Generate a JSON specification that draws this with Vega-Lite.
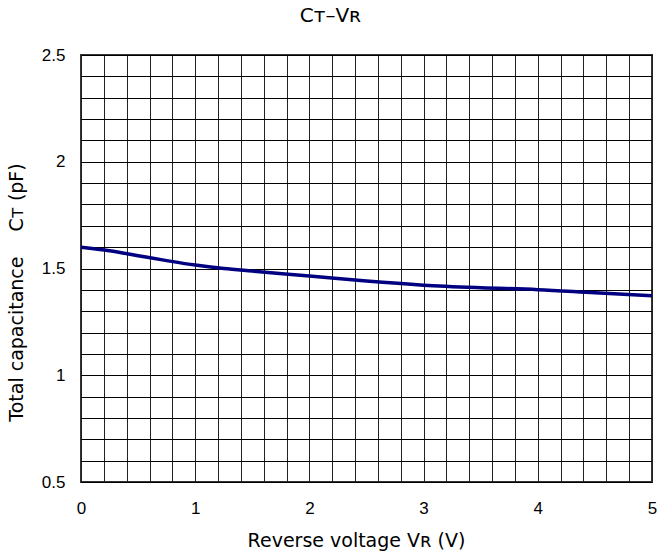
{
  "$schema": "https://vega.github.io/schema/vega-lite/v6.json",
  "width": 571,
  "height": 427,
  "autosize": {"type": "none"},
  "padding": {"left": 81, "top": 55, "right": 9, "bottom": 74},
  "background": "white",
  "config": {
    "view": {"stroke": "#333333", "strokeWidth": 2},
    "font": "Liberation Sans"
  },
  "title": {
    "text": "Cᴛ–Vʀ",
    "font": "DejaVu Sans",
    "fontSize": 20,
    "fontWeight": "normal",
    "color": "black",
    "anchor": "middle",
    "dx": -36,
    "offset": 20
  },
  "data": {
    "values": [
      {"v": 0.0, "c": 1.600},
      {"v": 0.25, "c": 1.583},
      {"v": 0.5, "c": 1.560},
      {"v": 0.75, "c": 1.537},
      {"v": 1.0, "c": 1.516},
      {"v": 1.25, "c": 1.500},
      {"v": 1.5, "c": 1.488},
      {"v": 2.0, "c": 1.465},
      {"v": 2.5, "c": 1.441},
      {"v": 3.0, "c": 1.422},
      {"v": 3.5, "c": 1.410},
      {"v": 4.0, "c": 1.401},
      {"v": 4.5, "c": 1.386},
      {"v": 5.0, "c": 1.372}
    ]
  },
  "mark": {"type": "line", "color": "#000080", "strokeWidth": 3.5, "interpolate": "monotone"},
  "encoding": {
    "x": {
      "field": "v",
      "type": "quantitative",
      "scale": {"domain": [0, 5], "nice": false, "zero": false},
      "axis": {
        "values": [0, 0.2, 0.4, 0.6, 0.8, 1, 1.2, 1.4, 1.6, 1.8, 2, 2.2, 2.4, 2.6, 2.8, 3, 3.2, 3.4, 3.6, 3.8, 4, 4.2, 4.4, 4.6, 4.8, 5],
        "labelExpr": "abs(datum.value - round(datum.value)) < 0.001 ? format(datum.value, 'd') : ''",
        "labelOverlap": false,
        "labelFlush": false,
        "ticks": false,
        "domain": false,
        "grid": true,
        "gridColor": "#222222",
        "gridWidth": 1,
        "gridOpacity": 1,
        "labelFont": "Liberation Sans",
        "labelFontSize": 17,
        "labelColor": "black",
        "labelPadding": 18,
        "title": "Reverse voltage Vʀ (V)",
        "titleFont": "DejaVu Sans",
        "titleFontSize": 19,
        "titleFontWeight": "normal",
        "titleColor": "black",
        "titlePadding": 15,
        "titleX": 275
      }
    },
    "y": {
      "field": "c",
      "type": "quantitative",
      "scale": {"domain": [0.5, 2.5], "nice": false, "zero": false},
      "axis": {
        "values": [0.5, 0.6, 0.7, 0.8, 0.9, 1, 1.1, 1.2, 1.3, 1.4, 1.5, 1.6, 1.7, 1.8, 1.9, 2, 2.1, 2.2, 2.3, 2.4, 2.5],
        "labelExpr": "round(datum.value * 10) % 5 === 0 ? format(datum.value, '~g') : ''",
        "labelOverlap": false,
        "labelFlush": false,
        "ticks": false,
        "domain": false,
        "grid": true,
        "gridColor": "#000000",
        "gridWidth": 1,
        "gridOpacity": 1,
        "labelFont": "Liberation Sans",
        "labelFontSize": 17,
        "labelColor": "black",
        "labelPadding": 16,
        "title": "Total capacitance\u2003 Cᴛ (pF)",
        "titleFont": "DejaVu Sans",
        "titleFontSize": 19,
        "titleFontWeight": "normal",
        "titleColor": "black",
        "titlePadding": 15,
        "titleY": 237
      }
    }
  }
}
